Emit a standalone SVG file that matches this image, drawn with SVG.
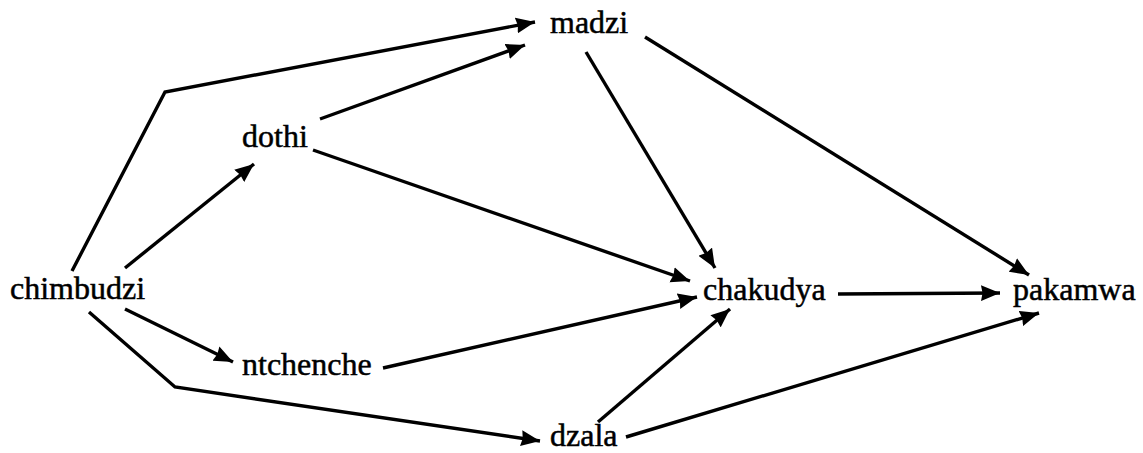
<svg xmlns="http://www.w3.org/2000/svg" width="1143" height="453" viewBox="0 0 1143 453">
<style>
text{font-family:"Liberation Serif","Times New Roman",serif;font-size:32px;fill:#000;stroke:#000;stroke-width:0.5}
.e{fill:none;stroke:#000;stroke-width:3.4;stroke-linejoin:miter;marker-end:url(#ah)}
</style>
<defs>
<marker id="ah" viewBox="0 0 12 10" refX="12" refY="5" markerWidth="5.6" markerHeight="4.8" orient="auto" markerUnits="strokeWidth">
<path d="M0,0 L12,5 L0,10 L1,5 Z" fill="#000"/>
</marker>
</defs>
<rect width="1143" height="453" fill="#fff"/>
<g id="connectors">
<path class="e" d="M72,271 L165,92 L535,22"/>
<path class="e" d="M320,119 L525,45"/>
<path class="e" d="M125,268 L254,164"/>
<path class="e" d="M313,150 L690,281"/>
<path class="e" d="M586,52 L715,268"/>
<path class="e" d="M645,37 L1029,275"/>
<path class="e" d="M125,309 L233,362"/>
<path class="e" d="M89,312 L175,387 L540,441"/>
<path class="e" d="M383,368 L697,297"/>
<path class="e" d="M598,422 L730,309"/>
<path class="e" d="M626,437 L1039,313"/>
<path class="e" d="M838,294 L1000,293"/>
</g>
<g id="chimbudzi"><text x="10" y="299">chimbudzi</text></g>
<g id="dothi"><text x="242" y="147">dothi</text></g>
<g id="madzi"><text x="550" y="33">madzi</text></g>
<g id="ntchenche"><text x="242" y="375">ntchenche</text></g>
<g id="chakudya"><text x="703" y="300">chakudya</text></g>
<g id="dzala"><text x="550" y="446">dzala</text></g>
<g id="pakamwa"><text x="1013" y="300">pakamwa</text></g>
</svg>
